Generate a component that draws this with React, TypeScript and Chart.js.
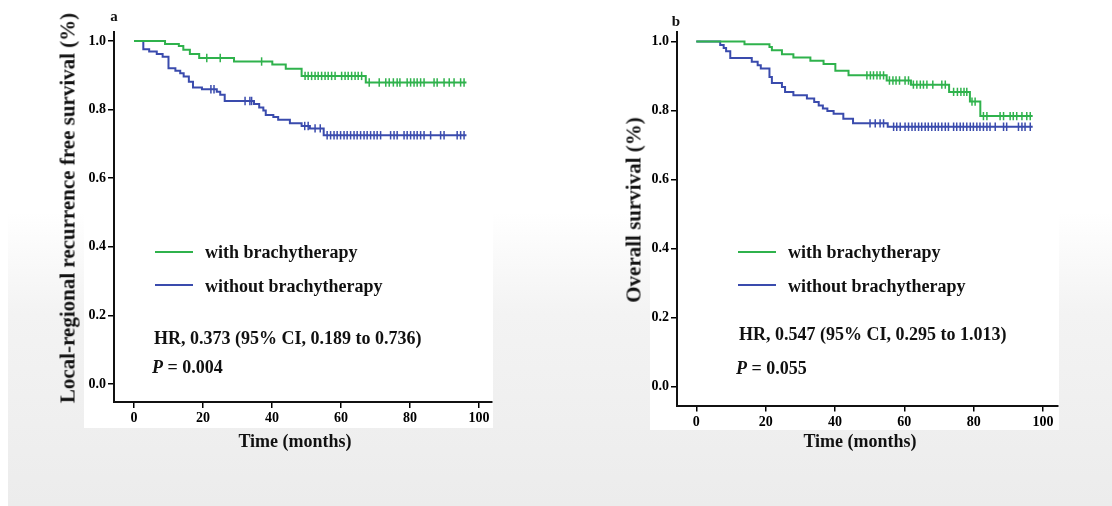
import React, { useEffect, useRef } from 'react';
import { Chart, registerables } from 'chart.js';
Chart.register(...registerables);

// ---------- data ----------
const X_TICKS = [0, 20, 40, 60, 80, 100];
const Y_TICKS = [0, 0.2, 0.4, 0.6, 0.8, 1.0];

const SERIES_WITH = 'with brachytherapy';
const SERIES_WITHOUT = 'without brachytherapy';

// Panel a: local-regional recurrence free survival
const A_WITH_TIME = [0, 9.0, 13.0, 14.3, 16.2, 18.9, 29.0, 40.1, 44.0, 48.6, 67.2, 96.4];
const A_WITH_SURV = [1, 0.991, 0.985, 0.974, 0.962, 0.95, 0.94, 0.931, 0.919, 0.898, 0.879, 0.879];
const A_WITH_CENSOR = [21.1, 25.0, 37.0, 49.6, 50.5, 51.5, 52.5, 53.4, 54.4, 55.4, 56.3, 57.3, 58.3, 60.2, 61.2, 62.1, 63.1, 64.1, 65.0, 66.0,
  68.2, 71.1, 73.0, 74.0, 75.2, 76.3, 77.1, 79.2, 80.2, 81.2, 82.1, 83.1, 84.1, 87.0, 87.9, 89.9, 91.4, 92.8, 94.7, 95.7];

const A_WITHOUT_TIME = [0, 2.7, 4.4, 6.6, 8.3, 10.0, 12.0, 13.4, 14.4, 15.9, 17.1, 19.7, 24.0, 25.0, 26.3, 34.8, 36.3, 37.5, 38.2, 40.4, 41.8, 45.2, 48.6, 51.0, 55.0, 96.4];
const A_WITHOUT_SURV = [1, 0.976, 0.969, 0.962, 0.954, 0.92, 0.913, 0.906, 0.896, 0.881, 0.864, 0.859, 0.852, 0.843, 0.825, 0.816, 0.806, 0.797, 0.784, 0.778, 0.77, 0.76, 0.752, 0.745, 0.725, 0.725];
const A_WITHOUT_CENSOR = [22.3, 23.2, 32.2, 33.6, 34.1, 49.5, 50.5, 52.5, 54.0,
  56.0, 57.0, 58.0, 58.9, 59.9, 60.9, 61.8, 62.8, 63.8, 64.7, 65.7, 66.7, 67.6, 68.6, 69.6, 70.5, 71.5, 74.4, 75.4, 76.3,
  78.3, 79.2, 80.2, 81.2, 82.1, 83.1, 84.1, 86.0, 88.9, 89.9, 93.7, 94.7, 95.7];

// Panel b: overall survival
const B_WITH_TIME = [0, 13.9, 21.1, 21.8, 24.7, 28.0, 32.9, 36.7, 40.1, 43.9, 54.9, 61.9, 72.9, 78.9, 81.9, 97.0];
const B_WITH_SURV = [1, 0.992, 0.984, 0.975, 0.963, 0.954, 0.944, 0.935, 0.915, 0.902, 0.887, 0.875, 0.854, 0.826, 0.784, 0.784];
const B_WITH_CENSOR = [49.2, 50.2, 51.1, 52.1, 53.0, 54.0, 55.7, 56.7, 57.6, 58.6, 60.2, 61.2, 62.6, 63.6, 64.6, 65.5, 66.5, 68.2, 70.8, 71.8,
  74.2, 75.3, 76.3, 77.2, 78.0, 79.5, 80.4, 82.8, 83.8, 87.6, 88.6, 90.5, 91.4, 92.4, 93.9, 95.3, 96.3];

const B_WITHOUT_TIME = [0, 6.9, 7.9, 8.6, 9.8, 16.0, 17.7, 18.6, 21.1, 21.8, 24.7, 25.6, 28.0, 31.9, 34.0, 35.3, 36.5, 37.8, 39.6, 42.4, 45.2, 55.2, 97.0];
const B_WITHOUT_SURV = [1, 0.99, 0.981, 0.972, 0.952, 0.941, 0.931, 0.922, 0.897, 0.88, 0.868, 0.854, 0.844, 0.835, 0.825, 0.815, 0.806, 0.799, 0.791, 0.776, 0.763, 0.753, 0.753];
const B_WITHOUT_CENSOR = [50.1, 51.6, 53.0, 54.0, 56.9, 57.8, 58.8, 60.2, 61.2, 62.2, 63.1, 64.1, 65.0, 66.0, 66.9, 67.9, 68.9, 69.8, 70.8, 71.8, 72.7,
  74.2, 75.1, 76.1, 77.0, 78.0, 79.0, 79.9, 80.9, 81.8, 82.8, 83.8, 84.7, 86.2, 88.6, 89.5, 92.9, 93.9, 94.8, 96.3];

const GREEN = '#2fb24c';
const BLUE = '#3a4bad';
const FONT = "'Liberation Serif', 'Times New Roman', serif";

function survAt(times: number[], surv: number[], t: number) {
  let s = surv[0];
  for (let i = 0; i < times.length; i++) if (times[i] <= t) s = surv[i];
  return s;
}

type PanelCfg = {
  canvasLeft: number;
  yAxisWidth: number;
  padTop: number;
  padRight: number;
  xAxisHeight: number;
  xMin: number; xMax: number; yMin: number; yMax: number;
  withT: number[]; withS: number[]; withC: number[];
  woT: number[]; woS: number[]; woC: number[];
};

function KMChart({ cfg }: { cfg: PanelCfg }) {
  const ref = useRef<HTMLCanvasElement>(null);
  useEffect(() => {
    if (!ref.current) return;
    const line = (t: number[], s: number[], color: string) => ({
      type: 'line' as const,
      data: t.map((x, i) => ({ x, y: s[i] })),
      borderColor: color,
      borderWidth: 2,
      pointRadius: 0,
      stepped: 'before' as const,
      fill: false,
    });
    const cens = (c: number[], t: number[], s: number[], color: string) => ({
      type: 'scatter' as const,
      data: c.map((x) => ({ x, y: survAt(t, s, x) })),
      borderColor: color,
      backgroundColor: color,
      pointStyle: 'line' as const,
      rotation: 90,
      pointRadius: 4.2,
      borderWidth: 1.5,
      showLine: false,
    });
    const tickFont = { family: FONT, size: 14, weight: 'bold' as const };
    const chart = new Chart(ref.current, {
      type: 'line',
      data: {
        datasets: [
          { label: SERIES_WITH, ...line(cfg.withT, cfg.withS, GREEN) },
          { label: SERIES_WITH, ...cens(cfg.withC, cfg.withT, cfg.withS, GREEN) },
          { label: SERIES_WITHOUT, ...line(cfg.woT, cfg.woS, BLUE) },
          { label: SERIES_WITHOUT, ...cens(cfg.woC, cfg.woT, cfg.woS, BLUE) },
        ] as any,
      },
      options: {
        animation: false,
        responsive: false,
        devicePixelRatio: 1,
        layout: { padding: { left: 0, top: cfg.padTop, right: cfg.padRight, bottom: 0 } },
        plugins: { legend: { display: false }, tooltip: { enabled: false } },
        scales: {
          x: {
            type: 'linear',
            min: cfg.xMin,
            max: cfg.xMax,
            afterBuildTicks: (s: any) => { s.ticks = X_TICKS.map((v) => ({ value: v })); },
            afterFit: (s: any) => { s.height = cfg.xAxisHeight; },
            grid: { drawOnChartArea: false, drawTicks: true, tickLength: 6, color: '#000', lineWidth: 1.5 },
            border: { display: true, color: '#111', width: 2 },
            ticks: { color: '#000', font: tickFont, padding: 2, maxRotation: 0, autoSkip: false },
          },
          y: {
            type: 'linear',
            min: cfg.yMin,
            max: cfg.yMax,
            afterBuildTicks: (s: any) => { s.ticks = Y_TICKS.map((v) => ({ value: v })); },
            afterFit: (s: any) => { s.width = cfg.yAxisWidth; },
            grid: { drawOnChartArea: false, drawTicks: true, tickLength: 6, color: '#000', lineWidth: 1.5 },
            border: { display: true, color: '#111', width: 2 },
            ticks: { color: '#000', font: tickFont, padding: 2, callback: (v: any) => Number(v).toFixed(1), autoSkip: false },
          },
        },
      } as any,
    });
    return () => chart.destroy();
  }, [cfg]);
  return (
    <canvas
      ref={ref}
      width={556}
      height={506}
      style={{ position: 'absolute', left: cfg.canvasLeft, top: 0, width: 556, height: 506 }}
    />
  );
}

function Label({ x, y, size, text, italicPrefix, center, rotate }: {
  x: number; y: number; size: number; text: string; italicPrefix?: string; center?: boolean; rotate?: boolean;
}) {
  const tr = rotate
    ? 'translate(-50%, -50%) rotate(-90deg)'
    : center ? 'translate(-50%, -50%)' : 'translate(0, -50%)';
  return (
    <div
      style={{
        position: 'absolute', left: x, top: y, transform: tr, whiteSpace: 'nowrap',
        fontFamily: FONT, fontWeight: 'bold', fontSize: size, lineHeight: 1, color: '#111',
      }}
    >
      {italicPrefix ? <i>{italicPrefix}</i> : null}
      {text}
    </div>
  );
}

function LegendLine({ x1, x2, y, color }: { x1: number; x2: number; y: number; color: string }) {
  return <div style={{ position: 'absolute', left: x1, top: y - 1.25, width: x2 - x1, height: 2.5, background: color }} />;
}

const PANEL_A: PanelCfg = {
  canvasLeft: 0, yAxisWidth: 114, padTop: 32, padRight: 64, xAxisHeight: 104,
  xMin: -5.8, xMax: 103.8, yMin: -0.0525, yMax: 1.026,
  withT: A_WITH_TIME, withS: A_WITH_SURV, withC: A_WITH_CENSOR,
  woT: A_WITHOUT_TIME, woS: A_WITHOUT_SURV, woC: A_WITHOUT_CENSOR,
};
const PANEL_B: PanelCfg = {
  canvasLeft: 556, yAxisWidth: 121, padTop: 32, padRight: 54, xAxisHeight: 100.5,
  xMin: -5.56, xMax: 104.3, yMin: -0.054, yMax: 1.0275,
  withT: B_WITH_TIME, withS: B_WITH_SURV, withC: B_WITH_CENSOR,
  woT: B_WITHOUT_TIME, woS: B_WITHOUT_SURV, woC: B_WITHOUT_CENSOR,
};

export default function App() {
  return (
    <div
      style={{
        position: 'absolute', left: 0, top: 0, width: 1112, height: 506, overflow: 'hidden',
        background: 'linear-gradient(180deg, #ffffff 0%, #ffffff 42%, #f3f3f3 62%, #ececec 100%)',
      }}
    >
      <div style={{ position: 'absolute', left: 0, top: 0, width: 8, height: 506, background: '#fff' }} />
      <div style={{ position: 'absolute', left: 84, top: 0, width: 409, height: 428, background: '#fff' }} />
      <div style={{ position: 'absolute', left: 650, top: 0, width: 409, height: 430, background: '#fff' }} />
      <KMChart cfg={PANEL_A} />
      <KMChart cfg={PANEL_B} />

      {/* Panel a text */}
      <Label x={114} y={16} size={15} text="a" center />
      <Label x={68} y={208} size={21} text="Local-regional recurrence free survival (%)" rotate />
      <Label x={295} y={441} size={18} text="Time (months)" center />
      <LegendLine x1={155} x2={193} y={252} color={GREEN} />
      <Label x={205} y={252} size={18} text={SERIES_WITH} />
      <LegendLine x1={155} x2={193} y={285} color={BLUE} />
      <Label x={205} y={286} size={18} text={SERIES_WITHOUT} />
      <Label x={154} y={338} size={18} text="HR, 0.373 (95% CI, 0.189 to 0.736)" />
      <Label x={152} y={367} size={18} italicPrefix="P" text=" = 0.004" />

      {/* Panel b text */}
      <Label x={676} y={21} size={15} text="b" center />
      <Label x={634} y={210} size={21} text="Overall survival (%)" rotate />
      <Label x={860} y={441} size={18} text="Time (months)" center />
      <LegendLine x1={738} x2={776} y={252} color={GREEN} />
      <Label x={788} y={252} size={18} text={SERIES_WITH} />
      <LegendLine x1={738} x2={776} y={285} color={BLUE} />
      <Label x={788} y={286} size={18} text={SERIES_WITHOUT} />
      <Label x={739} y={334} size={18} text="HR, 0.547 (95% CI, 0.295 to 1.013)" />
      <Label x={736} y={368} size={18} italicPrefix="P" text=" = 0.055" />
    </div>
  );
}
